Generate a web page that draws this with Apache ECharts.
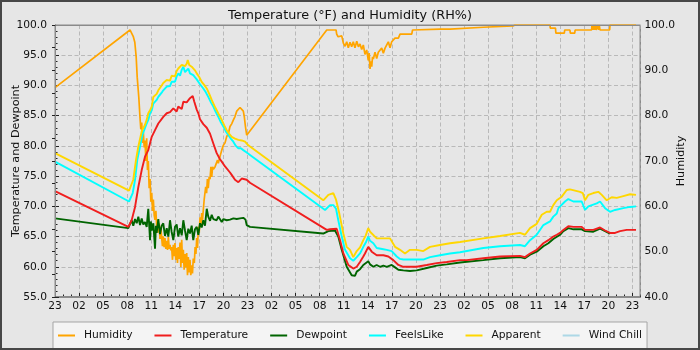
<!DOCTYPE html>
<html>
<head>
<meta charset="utf-8">
<script src="https://cdn.jsdelivr.net/npm/echarts@6/dist/echarts.min.js"></script>
<style>
  html, body { margin: 0; padding: 0; background: #e6e6e6; }
  #chart { width: 700px; height: 350px; }
</style>
</head>
<body>
<div id="chart"></div>
<script>
// Time is hours elapsed since 23:00 on the first day; the axis spans 73 hours.
const startHour = 23;
const spanHours = 73;

// Relative humidity (%), right axis
const humidity = [
  [0, 86.2], [9.35, 98.9], [9.55, 99.0], [9.75, 97.5], [9.95, 96.2], [10.12, 93.0], [10.25, 88.5],
  [10.45, 84.0], [10.6, 79.5], [10.7, 77.0], [10.81, 78.5], [10.92, 74.0], [11.01, 76.5], [11.12, 73.0],
  [11.22, 74.5], [11.33, 70.0], [11.43, 75.0], [11.53, 68.0], [11.63, 70.0], [11.74, 64.0], [11.85, 66.0],
  [11.95, 61.0], [12.06, 63.0], [12.16, 59.0], [12.26, 61.5], [12.37, 58.0], [12.47, 57.0], [12.58, 59.0],
  [12.68, 55.5], [12.78, 57.0], [12.88, 54.2], [12.99, 56.2], [13.09, 52.8], [13.2, 55.5], [13.3, 53.0],
  [13.4, 51.2], [13.5, 53.4], [13.61, 51.0], [13.71, 53.0], [13.82, 50.6], [13.93, 52.4], [14.03, 50.4],
  [14.13, 53.2], [14.24, 50.6], [14.34, 51.5], [14.44, 50.3], [14.54, 51.0], [14.65, 48.2], [14.75, 51.5],
  [14.86, 49.0], [14.96, 51.9], [15.06, 48.2], [15.17, 50.8], [15.27, 47.5], [15.37, 51.0], [15.48, 48.4],
  [15.59, 52.0], [15.69, 46.6], [15.8, 52.6], [15.9, 47.5], [16.0, 50.4], [16.1, 46.0], [16.21, 49.5],
  [16.31, 46.5], [16.42, 49.7], [16.52, 44.8], [16.62, 48.8], [16.73, 45.4], [16.83, 48.2], [16.93, 44.8],
  [17.04, 47.0], [17.14, 45.2], [17.24, 48.5], [17.37, 47.5], [17.47, 51.0], [17.57, 49.5], [17.67, 53.0],
  [17.77, 50.8], [17.87, 55.5], [17.98, 54.1], [18.08, 57.6], [18.18, 55.5], [18.29, 58.5], [18.39, 57.0],
  [18.49, 59.2], [18.6, 61.5], [18.7, 63.0], [18.79, 64.3], [18.9, 62.9], [19.0, 66.0], [19.11, 64.0],
  [19.22, 66.5], [19.33, 66.0], [19.44, 68.7], [19.54, 66.5], [19.65, 68.7], [19.75, 68.2], [19.95, 68.7],
  [20.16, 68.7], [20.26, 70.2], [20.36, 69.5], [20.57, 71.0], [20.79, 72.4], [21.0, 73.5], [21.2, 74.0],
  [21.41, 75.4], [21.61, 76.0], [21.82, 77.6], [22.03, 78.2], [22.23, 79.0], [22.44, 79.8], [22.66, 81.0],
  [22.86, 81.4], [23.07, 81.8], [23.28, 81.7], [23.48, 81.0], [23.6, 79.8], [23.75, 77.5], [23.9, 75.7],
  [33.88, 98.9], [35.04, 98.9], [35.12, 98.0], [35.3, 97.4], [35.54, 97.0], [35.75, 97.6], [35.95, 96.0],
  [36.16, 95.3], [36.37, 96.3], [36.57, 95.0], [36.78, 96.2], [36.99, 95.2], [37.19, 96.3], [37.4, 95.0],
  [37.62, 96.4], [37.83, 95.2], [38.03, 95.8], [38.24, 94.6], [38.44, 95.6], [38.65, 93.5], [38.86, 94.5],
  [39.06, 92.2], [39.17, 93.8], [39.28, 90.3], [39.38, 92.0], [39.49, 90.8], [39.59, 93.0], [39.69, 92.5],
  [39.9, 94.0], [40.11, 92.6], [40.31, 94.0], [40.52, 93.8], [40.73, 94.9], [40.94, 93.8], [41.15, 94.9],
  [41.36, 94.5], [41.56, 96.3], [41.77, 95.0], [41.98, 96.3], [42.18, 96.5], [42.39, 97.1], [42.61, 96.8],
  [42.81, 97.1], [43.02, 98.0], [44.48, 98.0], [44.58, 98.9], [48.0, 99.1], [49.25, 99.1], [53.4, 99.5],
  [57.11, 99.8], [57.36, 100], [61.72, 100], [61.75, 99.3], [62.4, 99.3], [62.45, 98.2], [63.5, 98.2],
  [63.55, 98.9], [64.2, 98.9], [64.25, 98.2], [64.8, 98.2], [64.85, 98.9], [66.9, 98.9], [66.95, 100],
  [67.05, 98.9], [67.15, 100], [67.25, 98.9], [67.35, 100], [67.45, 98.9], [67.6, 98.9], [67.65, 100],
  [67.75, 98.9], [67.85, 100], [67.95, 98.9], [69.15, 98.9], [69.2, 100], [72.44, 100]
];

// Air temperature (°F), left axis
const temperature = [
  [0, 72.5], [9.14, 66.6], [9.56, 67.7], [9.98, 69.9], [10.39, 73.2], [10.81, 76.0], [11.22, 78.2],
  [11.63, 79.3], [12.06, 81.5], [12.47, 82.6], [12.88, 83.7], [13.5, 84.8], [13.93, 85.4], [14.34, 85.6],
  [14.75, 86.2], [15.17, 85.7], [15.37, 86.5], [15.59, 86.8], [15.8, 86.1], [16.0, 87.3], [16.21, 87.6],
  [16.42, 87.2], [16.62, 87.5], [16.83, 87.9], [17.04, 87.6], [17.17, 88.25], [17.37, 87.3], [17.67, 86.0],
  [17.87, 85.4], [18.08, 84.4], [18.49, 83.6], [18.92, 83.0], [19.33, 82.0], [19.74, 80.4], [20.16, 78.8],
  [20.57, 77.8], [20.79, 77.4], [21.2, 76.6], [21.41, 76.3], [21.82, 75.6], [22.03, 75.2], [22.44, 74.4],
  [22.66, 74.2], [22.86, 74.0], [23.28, 74.6], [23.48, 74.8], [23.9, 74.4], [24.31, 73.9],
  [33.88, 66.1], [34.29, 66.2], [35.12, 66.3], [35.32, 66.0], [35.54, 64.4], [35.95, 62.2], [36.57, 60.3],
  [36.78, 60.1], [37.19, 59.7], [37.62, 60.0], [38.03, 60.8], [38.44, 61.7], [38.65, 62.2], [39.06, 63.3],
  [39.49, 62.5], [40.11, 61.9], [40.94, 61.9], [41.56, 61.7], [42.18, 61.1], [42.81, 60.3], [43.43, 60.0],
  [45.1, 60.0], [46.35, 60.3], [47.59, 60.6], [48.84, 60.8], [50.5, 61.1], [51.33, 61.1], [53.4, 61.4],
  [55.49, 61.7], [57.98, 61.8], [58.6, 61.6], [59.23, 62.2], [60.06, 62.8], [60.89, 63.9], [61.51, 64.4],
  [62.13, 65.0], [62.56, 65.3], [62.97, 65.6], [63.38, 66.1], [64.0, 66.7], [64.63, 66.6], [65.67, 66.6],
  [66.08, 66.1], [67.12, 66.1], [67.96, 66.5], [68.58, 66.0], [69.2, 65.6], [69.83, 65.6], [70.45, 65.9],
  [71.28, 66.1], [72.44, 66.1]
];

// Dewpoint (°F), left axis
const dewpoint = [
  [0, 68.0], [9.14, 66.4], [9.35, 66.5], [9.56, 67.7], [9.76, 66.8], [9.98, 67.9], [10.19, 67.2],
  [10.39, 68.3], [10.6, 66.9], [10.81, 68.0], [11.01, 67.0], [11.22, 67.4], [11.43, 66.6], [11.63, 69.6],
  [11.85, 64.4], [11.95, 67.5], [12.06, 66.0], [12.26, 67.2], [12.47, 63.0], [12.58, 66.8], [12.68, 65.6],
  [12.88, 67.9], [13.09, 65.4], [13.3, 66.8], [13.5, 67.2], [13.71, 65.1], [13.93, 66.4], [14.13, 65.0],
  [14.34, 67.7], [14.54, 65.8], [14.75, 64.4], [14.96, 66.6], [15.17, 67.0], [15.37, 65.0], [15.59, 66.4],
  [15.8, 65.2], [16.0, 67.7], [16.21, 66.0], [16.42, 64.4], [16.62, 66.3], [16.83, 65.5], [17.04, 66.8],
  [17.24, 64.4], [17.45, 66.2], [17.67, 66.6], [17.87, 65.3], [18.08, 67.2], [18.29, 66.5], [18.49, 67.7],
  [18.7, 66.8], [18.92, 69.6], [19.11, 68.3], [19.33, 67.6], [19.54, 68.6], [19.74, 67.9], [19.95, 68.2],
  [20.16, 67.7], [20.36, 68.3], [20.57, 68.0], [20.79, 67.4], [21.0, 67.9], [21.2, 68.2], [21.41, 67.7],
  [21.82, 67.8], [22.24, 68.0], [22.66, 67.9], [23.07, 68.0], [23.48, 68.1], [23.75, 67.8], [23.9, 66.9],
  [24.31, 66.6], [33.45, 65.5], [34.08, 65.9], [34.91, 66.0], [35.32, 65.0], [35.75, 62.8], [36.37, 60.0],
  [36.99, 58.6], [37.19, 58.9], [37.4, 58.5], [37.62, 59.2], [38.03, 59.6], [38.44, 60.3], [39.06, 60.9],
  [39.28, 60.4], [39.49, 60.6], [39.69, 60.0], [40.1, 60.3], [40.52, 60.0], [40.94, 60.2], [41.36, 60.0],
  [41.98, 60.3], [42.4, 59.9], [42.81, 59.5], [43.43, 59.4], [44.26, 59.3], [45.1, 59.4], [46.35, 59.8],
  [47.59, 60.2], [48.84, 60.4], [50.5, 60.7], [53.4, 61.1], [55.49, 61.4], [57.98, 61.6], [58.6, 61.4],
  [59.23, 62.0], [60.06, 62.5], [60.89, 63.4], [61.51, 63.9], [62.13, 64.6], [62.97, 65.3], [63.38, 65.9],
  [64.0, 66.4], [64.63, 66.2], [65.67, 66.2], [66.08, 65.9], [67.12, 65.8], [67.96, 66.3], [68.58, 65.9],
  [69.2, 65.5]
];

// Feels-like temperature (°F), left axis
const feelsLike = [
  [0, 77.4], [9.23, 70.8], [9.69, 72.2], [9.98, 74.4], [10.26, 77.7], [10.6, 79.9], [10.93, 82.0],
  [11.12, 82.6], [11.43, 83.7], [11.63, 84.3], [11.85, 85.4], [12.06, 85.9], [12.26, 87.0], [12.47, 86.8],
  [12.68, 87.6], [12.88, 88.1], [13.09, 87.9], [13.3, 88.8], [13.5, 89.2], [13.71, 88.9], [13.93, 89.8],
  [14.13, 90.1], [14.34, 89.9], [14.54, 90.6], [14.75, 90.9], [14.96, 90.6], [15.17, 91.5], [15.37, 92.0],
  [15.59, 91.6], [15.8, 92.6], [16.0, 93.1], [16.21, 92.2], [16.42, 92.3], [16.62, 92.8], [16.83, 92.0],
  [17.04, 92.2], [17.24, 91.7], [17.45, 91.5], [17.67, 91.0], [17.87, 90.9], [18.08, 90.2], [18.49, 89.5],
  [18.79, 88.9], [19.11, 88.1], [19.44, 87.2], [19.74, 86.5], [20.05, 85.6], [20.36, 84.8], [20.68, 83.9],
  [20.99, 83.2], [21.3, 82.4], [21.61, 81.8], [21.92, 81.2], [22.23, 80.7], [22.55, 80.0], [22.86, 79.6],
  [23.17, 79.6], [23.48, 79.3], [23.9, 78.9], [24.31, 78.5],
  [33.67, 69.4], [34.29, 70.2], [34.7, 70.2], [35.04, 69.6], [35.32, 67.7], [35.75, 65.0], [36.16, 62.8],
  [36.78, 61.4], [37.19, 61.0], [37.62, 61.6], [38.03, 62.2], [38.44, 63.3], [38.75, 64.0], [39.06, 65.0],
  [39.28, 64.3], [39.69, 63.9], [40.11, 63.1], [40.94, 62.9], [41.36, 62.8], [41.98, 62.6], [42.61, 61.7],
  [43.02, 61.3], [43.43, 61.2], [44.68, 61.2], [45.92, 61.2], [46.76, 61.6], [48.0, 61.9], [49.25, 62.2],
  [50.5, 62.4], [53.4, 63.1], [55.49, 63.4], [57.98, 63.6], [58.6, 63.4], [59.23, 64.4], [60.06, 65.3],
  [60.89, 66.9], [61.72, 67.5], [62.13, 68.3], [62.56, 68.8], [62.76, 69.7], [63.59, 70.8], [64.0, 71.2],
  [64.63, 70.8], [65.67, 70.8], [66.08, 69.4], [66.5, 70.0], [67.54, 70.5], [67.96, 70.8], [68.58, 69.7],
  [69.2, 69.1], [69.83, 69.4], [70.86, 69.7], [71.7, 69.9], [72.44, 70.0]
];

// Apparent temperature (°F), left axis
const apparent = [
  [0, 78.8], [9.23, 72.6], [9.76, 74.4], [10.1, 77.7], [10.39, 79.9], [10.81, 82.4], [11.22, 83.5],
  [11.43, 84.3], [11.63, 85.4], [11.85, 85.9], [12.06, 86.5], [12.26, 88.1], [12.47, 87.8], [12.68, 88.6],
  [12.88, 89.2], [13.09, 89.0], [13.3, 90.0], [13.5, 90.4], [13.71, 90.1], [13.93, 90.9], [14.13, 91.0],
  [14.34, 90.8], [14.54, 91.6], [14.75, 91.7], [14.96, 91.5], [15.17, 92.4], [15.37, 92.8], [15.59, 92.5],
  [15.8, 93.4], [16.0, 93.7], [16.21, 93.2], [16.42, 93.6], [16.55, 94.2], [16.73, 93.4], [17.04, 93.1],
  [17.24, 93.2], [17.45, 92.5], [17.67, 92.0], [17.98, 91.4], [18.29, 90.6], [18.6, 90.1], [18.92, 89.5],
  [19.23, 88.6], [19.54, 87.6], [19.85, 86.7], [20.16, 85.9], [20.47, 85.1], [20.79, 84.3], [21.1, 83.4],
  [21.41, 82.6], [21.72, 82.0], [22.03, 81.5], [22.44, 81.2], [22.86, 81.0], [23.28, 80.9], [23.69, 80.7],
  [24.1, 80.1],
  [33.45, 71.0], [34.08, 71.9], [34.7, 72.2], [35.04, 71.1], [35.45, 68.8], [35.95, 65.5], [36.37, 63.3],
  [36.78, 62.8], [37.19, 61.6], [37.62, 62.6], [38.03, 63.2], [38.44, 64.4], [38.75, 65.2], [39.06, 66.4],
  [39.28, 65.8], [39.49, 65.5], [40.11, 64.7], [40.94, 64.7], [41.77, 64.7], [42.39, 63.3], [43.02, 62.8],
  [43.64, 62.2], [44.26, 62.8], [45.1, 62.8], [45.92, 62.6], [46.76, 63.3], [48.0, 63.6], [49.25, 63.9],
  [50.5, 64.1], [53.4, 64.7], [55.49, 65.1], [57.98, 65.6], [58.6, 65.3], [59.23, 66.4], [60.06, 67.1],
  [60.69, 68.6], [61.31, 69.1], [61.72, 69.1], [62.13, 70.2], [62.56, 71.0], [63.18, 71.6], [63.8, 72.7],
  [64.21, 72.8], [65.46, 72.4], [65.8, 72.2], [66.08, 71.0], [66.5, 71.9], [67.12, 72.2], [67.74, 72.4],
  [68.17, 71.9], [68.79, 71.0], [69.41, 71.5], [70.04, 71.4], [70.86, 71.7], [71.7, 72.0], [72.44, 71.9]
];

// Wind chill (°F): no readings in this period
const windChill = [];

const legendNames = ['Humidity', 'Temperature', 'Dewpoint', 'FeelsLike', 'Apparent', 'Wind Chill'];

const FONT = 'DejaVu Sans';
const TEXT = '#111111';
const FRAME = '#8a8a8a';
const GRIDLINE = { type: [4, 2.5], color: '#b9b9b9', width: 1 };

// Plot rectangle (pixels)
const PLOT = { left: 55, top: 25, width: 585.5, height: 272 };

function hourLabel(v) {
  return String((startHour + Math.round(v)) % 24).padStart(2, '0');
}

function lineSeries(name, data, color, width, yAxisIndex) {
  return {
    name: name,
    type: 'line',
    data: data,
    yAxisIndex: yAxisIndex,
    showSymbol: false,
    symbol: 'none',
    color: color,
    lineStyle: { color: color, width: width },
    emphasis: { disabled: true },
    animation: false
  };
}

const chart = echarts.init(document.getElementById('chart'), null, { renderer: 'canvas' });

chart.setOption({
  backgroundColor: '#e6e6e6',
  animation: false,
  title: {
    text: 'Temperature (°F) and Humidity (RH%)',
    left: 'center',
    top: 4,
    textStyle: { fontFamily: FONT, fontSize: 12.8, fontWeight: 'normal', color: TEXT }
  },
  grid: {
    left: PLOT.left, top: PLOT.top, width: PLOT.width, height: PLOT.height,
    containLabel: false, outerBoundsMode: 'none',
    show: true, backgroundColor: '#e6e6e6', borderColor: FRAME, borderWidth: 1
  },
  legend: {
    data: legendNames,
    left: 53, top: 322,
    padding: [8, 5, 8, 5],
    itemGap: 22, itemWidth: 17, itemHeight: 2,
    icon: 'rect',
    backgroundColor: '#f4f4f4', borderColor: '#a5a5a5', borderWidth: 1, borderRadius: 0,
    textStyle: { fontFamily: FONT, fontSize: 10.7, color: TEXT, padding: [0, 0, 0, 4] }
  },
  xAxis: [
    {
      type: 'value', min: 0, max: spanHours, interval: 3,
      axisLine: { show: true, lineStyle: { color: FRAME } },
      axisTick: { show: true, inside: true, length: 4, lineStyle: { color: '#222' } },
      axisLabel: {
        formatter: hourLabel, showMaxLabel: false, margin: 4,
        fontFamily: FONT, fontSize: 10.7, color: TEXT
      },
      splitLine: { show: true, lineStyle: GRIDLINE }
    },
    {
      type: 'value', min: 0, max: spanHours, interval: 1, position: 'bottom',
      axisLine: { show: false },
      axisTick: { show: true, inside: true, length: 2.5, lineStyle: { color: '#222' } },
      axisLabel: { show: false },
      splitLine: { show: false }
    }
  ],
  yAxis: [
    {
      type: 'value', min: 55, max: 100, interval: 5, position: 'left',
      name: 'Temperature and Dewpoint', nameLocation: 'middle', nameRotate: 90, nameGap: 33,
      nameMoveOverlap: false,
      nameTextStyle: { fontFamily: FONT, fontSize: 11.2, color: TEXT },
      axisLine: { show: true, lineStyle: { color: FRAME } },
      axisTick: { show: true, inside: true, length: 4, lineStyle: { color: '#222' } },
      minorTick: { show: true, splitNumber: 5, length: 2.5, lineStyle: { color: '#222' } },
      axisLabel: {
        formatter: v => v.toFixed(1), margin: 8,
        fontFamily: FONT, fontSize: 10.7, color: TEXT
      },
      splitLine: { show: true, lineStyle: GRIDLINE }
    },
    {
      type: 'value', min: 40, max: 100, interval: 10, position: 'right',
      name: 'Humidity', nameLocation: 'middle', nameRotate: 90, nameGap: 35,
      nameMoveOverlap: false,
      nameTextStyle: { fontFamily: FONT, fontSize: 11.2, color: TEXT },
      axisLine: { show: true, lineStyle: { color: FRAME } },
      axisTick: { show: true, inside: true, length: 3, lineStyle: { color: '#222' } },
      minorTick: { show: true, splitNumber: 2, length: 3, lineStyle: { color: '#222' } },
      axisLabel: {
        formatter: v => v.toFixed(1), margin: 4,
        fontFamily: FONT, fontSize: 10.7, color: TEXT
      },
      splitLine: { show: false }
    }
  ],
  series: [
    lineSeries('Humidity', humidity, '#ffa500', 1.7, 1),
    lineSeries('Dewpoint', dewpoint, '#006400', 1.9, 0),
    lineSeries('Temperature', temperature, '#f01e1e', 1.9, 0),
    lineSeries('FeelsLike', feelsLike, '#00ffff', 1.9, 0),
    lineSeries('Apparent', apparent, '#ffd700', 1.9, 0),
    lineSeries('Wind Chill', windChill, '#add8e6', 1.9, 0)
  ],
  graphic: [
    {
      // plot frame redrawn above the lines so readings at the axis limit sit under it
      type: 'rect', silent: true, z: 90,
      shape: { x: PLOT.left + 0.5, y: PLOT.top + 0.5, width: PLOT.width - 1, height: PLOT.height - 1 },
      style: { fill: 'none', stroke: FRAME, lineWidth: 1 }
    },
    {
      type: 'rect', silent: true, z: 100,
      shape: { x: 1, y: 1, width: 698, height: 348 },
      style: { fill: 'none', stroke: '#474747', lineWidth: 2 }
    }
  ]
});
</script>
</body>
</html>
